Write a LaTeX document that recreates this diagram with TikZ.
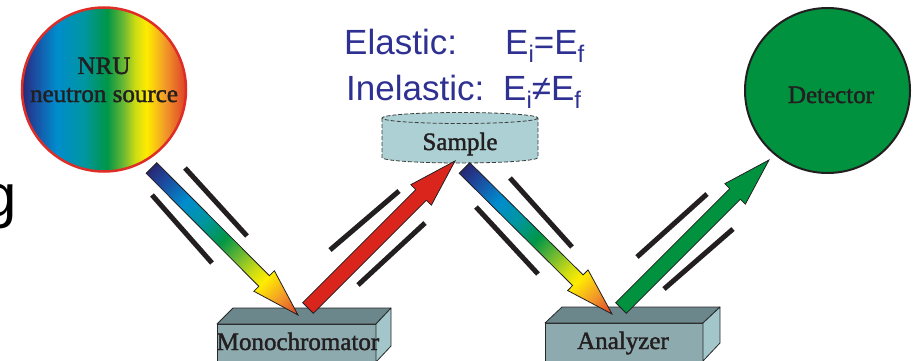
\documentclass[tikz,border=0pt]{standalone}
\usepackage{fontspec}
\setmainfont{Liberation Serif}
\newfontfamily\figsans{Liberation Sans}
\newfontfamily\labelserif{Liberation Serif}[FakeBold=1.6]
\usetikzlibrary{calc}

% palette
\definecolor{inkdark}{RGB}{35,31,32}
\definecolor{eqblue}{RGB}{46,49,146}
\definecolor{detgreen}{RGB}{0,146,63}
\definecolor{beamred}{RGB}{218,37,29}
\definecolor{srcrim}{RGB}{222,45,38}
\definecolor{samplefill}{RGB}{172,208,212}
\definecolor{sampleline}{RGB}{60,60,60}
\definecolor{xtaltop}{RGB}{107,135,140}
\definecolor{xtalfront}{RGB}{141,171,175}
\definecolor{xtalside}{RGB}{162,198,201}
\definecolor{xtaledge}{RGB}{40,40,40}

% spectrum colours
\definecolor{rbA}{RGB}{40,40,115}
\definecolor{rbB}{RGB}{30,70,155}
\definecolor{rbC}{RGB}{0,140,205}
\definecolor{rbD}{RGB}{0,150,160}
\definecolor{rbE}{RGB}{0,150,70}
\definecolor{rbF}{RGB}{110,185,50}
\definecolor{rbG}{RGB}{205,220,20}
\definecolor{rbH}{RGB}{255,236,0}
\definecolor{rbI}{RGB}{242,155,40}
\definecolor{rbJ}{RGB}{222,62,40}

% white-beam spectrum across the source disc
\pgfdeclarehorizontalshading{sourcebands}{100bp}{%
  color(0bp)=(rbA); color(25bp)=(rbA); color(28bp)=(rbB); color(35.5bp)=(rbC);
  color(44bp)=(rbD); color(51bp)=(rbE); color(56bp)=(rbF); color(59.5bp)=(rbG);
  color(63bp)=(rbH); color(68.5bp)=(rbI); color(75bp)=(rbJ); color(100bp)=(rbJ)}

% spectrum along a polychromatic beam, tail to tip
\pgfdeclarehorizontalshading{beambands}{100bp}{%
  color(0bp)=(rbA); color(25bp)=(rbA); color(29bp)=(rbB); color(36.5bp)=(rbC);
  color(43bp)=(rbD); color(49.5bp)=(rbE); color(55bp)=(rbF); color(60bp)=(rbG);
  color(63.5bp)=(rbH); color(69bp)=(rbI); color(75bp)=(rbJ); color(100bp)=(rbJ)}

% block arrow from coordinate #1 to coordinate #2, path options #3
\newcommand\beamarrow[3]{%
  \pgfmathanglebetweenpoints{\pgfpointanchor{#1}{center}}{\pgfpointanchor{#2}{center}}%
  \edef\beamangle{\pgfmathresult}%
  \path let \p1=($(#2)-(#1)$) in
    \pgfextra{\pgfmathsetmacro\tmplen{veclen(\x1,\y1)}\global\let\beamlen\tmplen};
  \begin{scope}[transform canvas={shift={(#1)},rotate=\beamangle}]
    \path[#3] (0pt,7.5pt) -- (\beamlen pt-48pt,7.5pt) -- (\beamlen pt-48pt,14.5pt)
      -- (\beamlen pt,0pt) -- (\beamlen pt-48pt,-14.5pt) -- (\beamlen pt-48pt,-7.5pt)
      -- (0pt,-7.5pt) -- cycle;
  \end{scope}}

\newcommand\eqsub[1]{\raisebox{-8pt}{\fontsize{24}{24}\selectfont #1}}

\begin{document}
\begin{tikzpicture}[x=1pt,y=-1pt,
  serif/.style={font=\labelserif\fontsize{25}{28}\selectfont, text=inkdark, inner sep=0pt},
  eqtext/.style={font=\figsans\fontsize{35}{40}\selectfont, text=eqblue, inner sep=0pt, anchor=base west},
  slit/.style={line width=5pt, draw=inkdark},
  edge/.style={draw=xtaledge, line width=0.8pt, line join=round},
  sampleedge/.style={draw=sampleline, line width=0.8pt, dash pattern=on 4pt off 2pt},
  rainbowbeam/.style={shade, shading=beambands, draw=inkdark, line width=0.8pt, line join=miter},
  solidbeam/.style={fill=#1, draw=inkdark, line width=0.8pt, line join=miter}]

\path[use as bounding box, clip] (0,0) rectangle (915,361);

% cut-off heading letter at the left edge
\node[font=\figsans\fontsize{60}{60}\selectfont, inner sep=0pt, anchor=base east] (heading) at (17,216) {g};

% neutron source
\node[circle, minimum size=164pt, inner sep=0pt, shade, shading=sourcebands,
      draw=srcrim, line width=2.5pt] (source) at (104,89.5) {};
\node[serif, anchor=base] (srcname) at (104,74) {NRU};
\node[serif, anchor=base] (srcname2) at (104,102) {neutron source};

% detector
\node[circle, minimum size=165pt, inner sep=0pt, fill=detgreen, draw=inkdark,
      line width=2pt] (detector) at (827.5,90.5) {};
\node[serif, anchor=base] (detname) at (831,103) {Detector};

% scattering conditions
\node[eqtext] (elastic) at (344,55) {Elastic:};
\node[eqtext] (elasticeq) at (505,55) {E\eqsub{i}=E\eqsub{f}};
\node[eqtext] (inelastic) at (346,100) {Inelastic:};
\node[eqtext] (inelasticeq) at (503,100) {E\eqsub{i}≠E\eqsub{f}};

% sample disc
\fill[samplefill] (382,118) -- (382,157.5)
  arc[start angle=180, end angle=0, x radius=78, y radius=5.5] -- (538,118) -- cycle;
\draw[sampleedge] (382,118) -- (382,157.5)
  arc[start angle=180, end angle=0, x radius=78, y radius=5.5] -- (538,118);
\filldraw[fill=samplefill, sampleedge] (460,118) ellipse[x radius=78, y radius=5.5];
\node[serif, anchor=base] (sample) at (460,150) {Sample};

% monochromator crystal
\fill[xtalfront] (217,324) rectangle (376,370);
\draw[edge] (217,370) -- (217,324) -- (376,324) -- (376,370);
\filldraw[fill=xtaltop, edge] (217,324) -- (233,308) -- (391,308) -- (376,324) -- cycle;
\filldraw[fill=xtalside, edge] (376,324) -- (391,308) -- (391,346) -- (376,362) -- cycle;
\node[serif, anchor=base] (mono) at (298,350) {Monochromator};

% analyzer crystal
\fill[xtalfront] (545,323) rectangle (703,370);
\draw[edge] (545,370) -- (545,323) -- (703,323) -- (703,370);
\filldraw[fill=xtaltop, edge] (545,323) -- (562,307) -- (720,307) -- (703,323) -- cycle;
\filldraw[fill=xtalside, edge] (703,323) -- (720,307) -- (720,343) -- (703,361) -- cycle;
\node[serif, anchor=base] (analyzer) at (623,349) {Analyzer};

% collimator blades beside each beam
\draw[slit] (185,168) -- (247,236);
\draw[slit] (152,195) -- (212,263);
\draw[slit] (330,250) -- (399,191);
\draw[slit] (358,285) -- (425,223);
\draw[slit] (510,178) -- (572,247);
\draw[slit] (476,207) -- (538,274);
\draw[slit] (637,257) -- (707,194);
\draw[slit] (664,289) -- (733,229);

% beam path end points
\coordinate (srcout) at (151.5,168);
\coordinate (monoin) at (298,315);
\coordinate (monoout) at (308,308);
\coordinate (samplein) at (455,161);
\coordinate (sampleout) at (464.5,168);
\coordinate (anain) at (612,314);
\coordinate (anaout) at (621,308);
\coordinate (detin) at (769,160);

% beams
\beamarrow{srcout}{monoin}{rainbowbeam}
\beamarrow{monoout}{samplein}{solidbeam=beamred}
\beamarrow{sampleout}{anain}{rainbowbeam}
\beamarrow{anaout}{detin}{solidbeam=detgreen}

\end{tikzpicture}
\end{document}
